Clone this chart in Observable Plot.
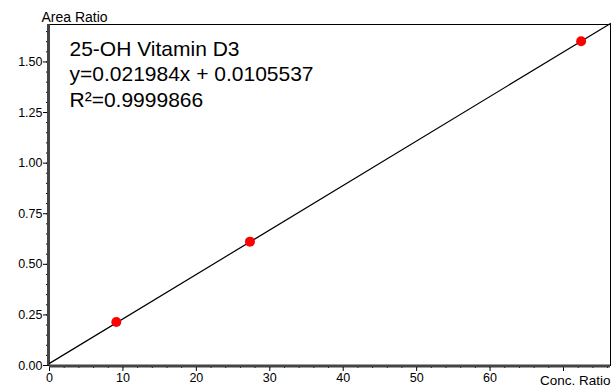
<!DOCTYPE html>
<html>
<head>
<meta charset="utf-8">
<script src="https://cdn.jsdelivr.net/npm/d3@7"></script>
<script src="https://cdn.jsdelivr.net/npm/@observablehq/plot@0.6"></script>
<style>
  html, body { margin: 0; padding: 0; background: #fff; }
  svg { display: block; }
</style>
</head>
<body>
<div id="chart"></div>
<script>
// Calibration points (Conc. Ratio, Area Ratio)
const concRatio = [9.1, 27.3, 72.4];
const areaRatio = [0.215, 0.612, 1.602];

// Fit line reported on the chart
const slope = 0.021984;
const intercept = 0.0105537;
const fitX = [0, 76.4];

// Axis ticks
const xMajorTicks = [0, 10, 20, 30, 40, 50, 60, 70];
const xTickLabels = ["0", "10", "20", "30", "40", "50", "60", ""];
const xMinorTicks = d3.range(0, 77, 2);
const yMajorTicks = [0, 0.25, 0.5, 0.75, 1.0, 1.25, 1.5];
const yTickLabels = ["0.00", "0.25", "0.50", "0.75", "1.00", "1.25", "1.50"];
const yMinorTicks = d3.range(0, 1.69, 0.05);

// Text
const xLabel = "Conc. Ratio";
const yLabel = "Area Ratio";
const annotation = ["25-OH Vitamin D3", "y=0.021984x + 0.0105537", "R\u00B2=0.9999866"];

const points = concRatio.map((x, i) => ({x, y: areaRatio[i]}));
const fit = fitX.map(x => ({x, y: slope * x + intercept}));

const font = "'Liberation Sans', Arial, sans-serif";

const chart = Plot.plot({
  width: 611,
  height: 387,
  marginLeft: 49,
  marginRight: 1,
  marginTop: 24,
  marginBottom: 22,
  style: {fontFamily: font, fontSize: "12px", color: "#000", background: "#fff"},
  x: {domain: [0, 76.4]},
  y: {domain: [0, 1.685]},
  marks: [
    Plot.axisX(xMinorTicks, {tickSize: 3, text: null, stroke: "#000", label: null}),
    Plot.axisX(xMajorTicks, {tickSize: 6, tickPadding: 2, tickFormat: (d, i) => xTickLabels[i], stroke: "#000", fontSize: 12.5, label: null}),
    Plot.axisY(yMinorTicks, {tickSize: 3, text: null, stroke: "#000", label: null}),
    Plot.axisY(yMajorTicks, {tickSize: 6, tickPadding: 1, tickFormat: (d, i) => yTickLabels[i], stroke: "#000", fontSize: 12.5, label: null}),
    Plot.frame({stroke: "#000", strokeWidth: 1}),
    Plot.ruleX([0], {stroke: "#444", strokeWidth: 3, dx: -1}),
    Plot.ruleY([0], {stroke: "#444", strokeWidth: 3, dy: 0.5}),
    Plot.line(fit, {x: "x", y: "y", stroke: "#000", strokeWidth: 1.2}),
    Plot.dot(points, {x: "x", y: "y", r: 5, fill: "#ff0000", stroke: "none"}),
    ...annotation.map((t, i) => Plot.text([t], {
      frameAnchor: "top-left", textAnchor: "start", lineAnchor: "bottom",
      dx: 20, dy: 31 + i * 25.5, fontSize: 21, fill: "#000"
    })),
    Plot.text([yLabel], {frameAnchor: "top-left", textAnchor: "start", lineAnchor: "bottom", dx: -8, dy: -3, fontSize: 14, fill: "#000"}),
    Plot.text([xLabel], {frameAnchor: "bottom-right", textAnchor: "end", lineAnchor: "bottom", dx: 0, dy: 19, fontSize: 13.5, fill: "#000"})
  ]
});
document.getElementById("chart").appendChild(chart);
</script>
</body>
</html>
